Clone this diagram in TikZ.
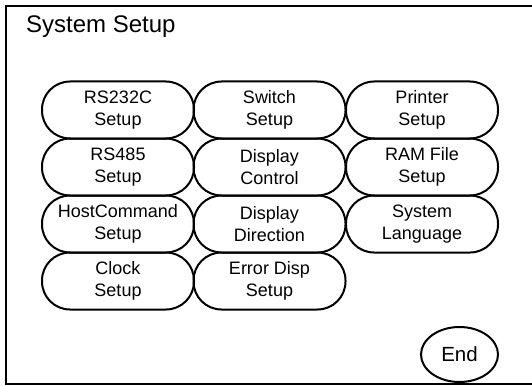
\documentclass[tikz,border=0pt]{standalone}
\usepackage{fontspec}
\setmainfont{Liberation Sans}
\usetikzlibrary{shapes.geometric}
\begin{document}
\begin{tikzpicture}[x=1pt,y=-1pt,
  btn/.style={draw=black, line width=2pt, rounded corners=28pt, minimum width=152pt, minimum height=57pt, inner sep=0pt, align=center, font=\fontsize{18}{21.5}\selectfont},
  endbtn/.style={draw=black, line width=2pt, ellipse, minimum width=77pt, minimum height=55pt, inner sep=0pt, font=\fontsize{20.5}{24}\selectfont},
  frameline/.style={draw=black}
]
\useasboundingbox (0,0) rectangle (532,385);
\fill[white] (0,0) rectangle (532,385);
% frame
\coordinate (tl) at (6,6);
\coordinate (tr) at (533,6);
\coordinate (bl) at (6,384);
\coordinate (br) at (533,384);
\draw[frameline, line width=2.5pt] (5,6) -- (tr);
\draw[frameline, line width=2pt] (tl) -- (bl);
\draw[frameline, line width=1.3pt] (5,384) -- (br);
\node[anchor=base west, inner sep=0pt, font=\fontsize{24}{28}\selectfont] (title) at (26,33) {System Setup};
% buttons
\node[btn] (rs232) at (118,110) {RS232C\\Setup};
\node[btn] (switch) at (269.5,110) {Switch\\Setup};
\node[btn] (printer) at (422,110) {Printer\\Setup};
\node[btn] (rs485) at (118,167) {RS485\\Setup};
\node[btn] (dispctl) at (269.5,167) {Display\\Control};
\node[btn] (ramfile) at (422,167) {RAM File\\Setup};
\node[btn] (hostcmd) at (118,224) {HostCommand\\Setup};
\node[btn] (dispdir) at (269.5,224) {Display\\Direction};
\node[btn] (syslang) at (422,224) {System\\Language};
\node[btn] (clock) at (118,281) {Clock\\Setup};
\node[btn] (errdisp) at (269.5,281) {Error Disp\\Setup};
\node[endbtn] (endb) at (459.5,354.5) {End};
\end{tikzpicture}
\end{document}
